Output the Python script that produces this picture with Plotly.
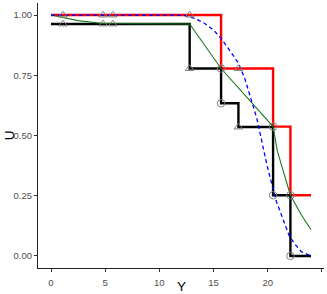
import plotly.graph_objects as go

# Step curves
black_t = [0, 12.8, 15.7, 17.3, 20.5, 22.1, 24.0]
black_u = [0.963, 0.778, 0.634, 0.535, 0.252, 0.0, 0.0]
red_t = [0, 15.7, 20.5, 22.1, 24.0]
red_u = [1.0, 0.778, 0.537, 0.252, 0.252]

# Smooth curves
green_t = [0, 1.1, 2.5, 4.8, 12.8, 15.7, 20.5, 20.9, 21.6, 22.1, 23.1, 24.0]
green_u = [1.0, 0.99, 0.977, 0.965, 0.963, 0.778, 0.537, 0.434, 0.324, 0.252, 0.171, 0.109]
blue_t = [0, 12.2, 13.3, 14.2, 15.0, 15.7, 16.8, 17.3, 17.9, 18.4, 19.0, 19.6, 20.0,
          20.8, 21.4, 22.0, 22.5, 23.1, 24.0]
blue_u = [1.0, 1.0, 0.986, 0.965, 0.938, 0.903, 0.834, 0.80, 0.735, 0.665, 0.571, 0.447, 0.365,
          0.227, 0.15, 0.082, 0.05, 0.018, 0.0]

# Marks
tri_t = [1.1, 1.1, 4.8, 4.8, 5.7, 5.7, 12.8, 12.8, 17.3, 17.3]
tri_u = [1.0, 0.963, 1.0, 0.963, 1.0, 0.963, 1.0, 0.778, 0.778, 0.535]
circ_t = [15.7, 15.7, 20.5, 20.5, 22.1, 22.1]
circ_u = [0.778, 0.634, 0.537, 0.252, 0.252, 0.0]

x_ticks = [0, 5, 10, 15, 20, 25]
y_ticks = [0.0, 0.25, 0.5, 0.75, 1.0]

FONT = "Liberation Sans, Arial, sans-serif"

fig = go.Figure()
fig.add_trace(go.Scatter(x=red_t, y=red_u, mode="lines", line=dict(color="#ff0000", width=2.4, shape="hv")))
fig.add_trace(go.Scatter(x=black_t, y=black_u, mode="lines", line=dict(color="#000000", width=2.4, shape="hv")))
fig.add_trace(go.Scatter(x=green_t, y=green_u, mode="lines", line=dict(color="#1a7a1a", width=1.1)))
fig.add_trace(go.Scatter(x=blue_t, y=blue_u, mode="lines", line=dict(color="#0000ff", width=1.3, dash="4px,3px")))
fig.add_trace(go.Scatter(x=tri_t, y=tri_u, mode="markers",
                         marker=dict(symbol="triangle-up-open", size=7.5, color="#7f7f7f", line=dict(width=1))))
fig.add_trace(go.Scatter(x=circ_t, y=circ_u, mode="markers",
                         marker=dict(symbol="circle-open", size=7.5, color="#7f7f7f", line=dict(width=1))))

axis_common = dict(showgrid=False, zeroline=False, showline=True, linecolor="#222222", linewidth=1.1,
                   ticks="outside", ticklen=3, tickcolor="#333333", tickwidth=1,
                   tickfont=dict(family=FONT, size=9.5, color="#4d4d4d"))
fig.update_layout(
    width=327, height=294,
    margin=dict(l=38, r=3, t=3, b=26, autoexpand=False),
    plot_bgcolor="white", paper_bgcolor="white",
    showlegend=False,
    hovermode=False,
    xaxis=dict(range=[-1.2, 25.2], tickvals=x_ticks, ticktext=[str(v) for v in x_ticks],
               ticklabelstandoff=2, **axis_common),
    yaxis=dict(range=[-0.05, 1.05], tickvals=y_ticks, ticktext=["%.2f" % v for v in y_ticks], **axis_common),
    annotations=[
        dict(text="Y", xref="paper", yref="paper", x=0.5, y=-0.068, yanchor="middle", xanchor="center",
             showarrow=False, font=dict(family=FONT, size=13.5, color="#000")),
        dict(text="U", xref="paper", yref="paper", x=-0.132, y=0.5, xanchor="left", yanchor="middle",
             textangle=-90, showarrow=False, font=dict(family=FONT, size=13.5, color="#000")),
    ],
)
fig.write_html("out.html", config={"displayModeBar": False, "staticPlot": True},
               post_script="document.body.style.margin='0px';document.body.style.padding='0px';")
